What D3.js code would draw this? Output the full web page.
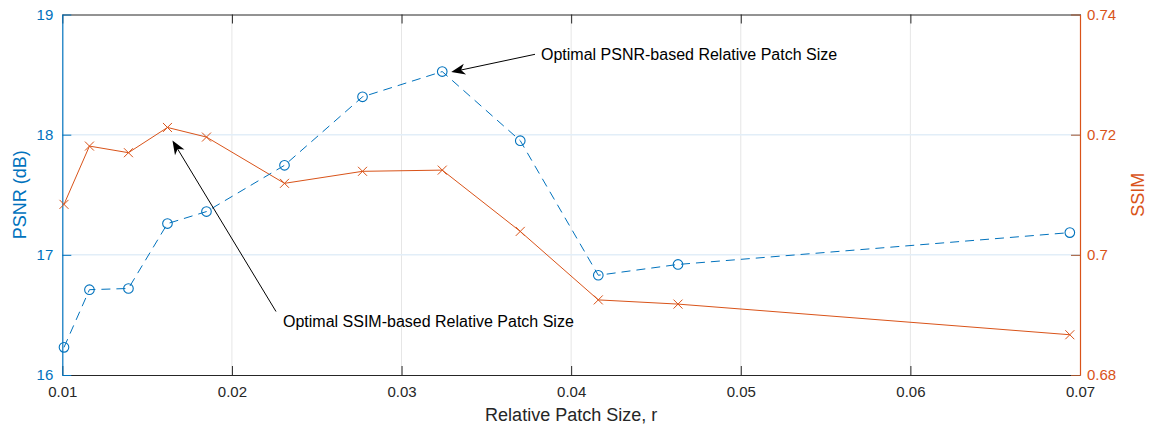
<!DOCTYPE html>
<html>
<head>
<meta charset="utf-8">
<script src="https://cdn.jsdelivr.net/npm/d3@7/dist/d3.min.js"></script>
<style>
  html, body { margin: 0; padding: 0; background: #fff; }
  svg { display: block; font-family: "Liberation Sans", Arial, sans-serif; }
</style>
</head>
<body>
<svg id="chart" width="1152" height="431"></svg>
<script>
// Relative patch sizes and the two quality measures at each size
const patchSize = [0.0101, 0.0116, 0.0139, 0.0162, 0.0185, 0.0231, 0.0277, 0.0324, 0.0370, 0.0416, 0.0463, 0.0694];
const psnr      = [16.23, 16.71, 16.72, 17.26, 17.36, 17.745, 18.315, 18.525, 17.95, 16.83, 16.92, 17.185];
const ssim      = [0.7084, 0.7181, 0.7170, 0.7212, 0.7196, 0.7119, 0.7139, 0.7141, 0.7039, 0.6925, 0.6918, 0.6867];

const xTicks     = [0.01, 0.02, 0.03, 0.04, 0.05, 0.06, 0.07];
const psnrTicks  = [16, 17, 18, 19];
const ssimTicks  = [0.68, 0.7, 0.72, 0.74];
const xTickText    = ["0.01", "0.02", "0.03", "0.04", "0.05", "0.06", "0.07"];
const psnrTickText = ["16", "17", "18", "19"];
const ssimTickText = ["0.68", "0.7", "0.72", "0.74"];

const BLUE = "#0072BD", ORANGE = "#D95319", DARK = "#262626";

const svg = d3.select("#chart");
const L = 62.3, R = 1080, T = 14.5, B = 375;

const x  = d3.scaleLinear().domain([0.01, 0.07]).range([L, R]);
const yL = d3.scaleLinear().domain([16, 19]).range([B, T]);
const yR = d3.scaleLinear().domain([0.68, 0.74]).range([B, T]);

// grid
const grid = svg.append("g");
grid.selectAll(".vg").data(xTicks.slice(1, -1)).join("line")
  .attr("x1", d => x(d)).attr("x2", d => x(d)).attr("y1", T).attr("y2", B)
  .attr("stroke", "#e6e6e6").attr("stroke-width", 1);
grid.selectAll(".hg").data(psnrTicks.slice(1, -1)).join("line")
  .attr("x1", L).attr("x2", R).attr("y1", d => yL(d)).attr("y2", d => yL(d))
  .attr("stroke", "#e2eef8").attr("stroke-width", 1.5);

// axes
const tickLen = 9;
const tickFont = "15px";
const xAxisB = d3.axisBottom(x).tickValues(xTicks).tickFormat((d, i) => xTickText[i]).tickSizeInner(-tickLen).tickSizeOuter(0).tickPadding(11);
const gB = svg.append("g").attr("transform", `translate(0,${B})`).call(xAxisB);
const xAxisT = d3.axisTop(x).tickValues(xTicks).tickFormat("").tickSizeInner(-tickLen).tickSizeOuter(0);
const gT = svg.append("g").attr("transform", `translate(0,${T})`).call(xAxisT);
[gB, gT].forEach(g => {
  g.select(".domain").attr("stroke", DARK).attr("stroke-width", 1);
  g.selectAll(".tick line").attr("stroke", DARK);
  g.selectAll(".tick text").attr("fill", DARK).style("font-size", tickFont);
});

const yAxisL = d3.axisLeft(yL).tickValues(psnrTicks).tickFormat((d, i) => psnrTickText[i]).tickSizeInner(-tickLen).tickSizeOuter(0).tickPadding(9);
const gL = svg.append("g").attr("transform", `translate(${L},0)`).call(yAxisL);
gL.select(".domain").attr("stroke", BLUE).attr("stroke-width", 1.2);
gL.selectAll(".tick line").attr("stroke", BLUE);
gL.selectAll(".tick text").attr("fill", BLUE).style("font-size", tickFont);

const yAxisR = d3.axisRight(yR).tickValues(ssimTicks).tickFormat((d, i) => ssimTickText[i]).tickSizeInner(-tickLen).tickSizeOuter(0).tickPadding(7);
const gR = svg.append("g").attr("transform", `translate(${R},0)`).call(yAxisR);
gR.select(".domain").attr("stroke", ORANGE).attr("stroke-width", 1.2);
gR.selectAll(".tick line").attr("stroke", "#a0522d");
gR.selectAll(".tick text").attr("fill", ORANGE).style("font-size", tickFont);

// axis titles
svg.append("text").attr("x", (L + R) / 2).attr("y", 421).attr("text-anchor", "middle")
  .attr("fill", DARK).style("font-size", "18px").text("Relative Patch Size, r");
svg.append("text").attr("transform", `translate(26,${(T + B) / 2}) rotate(-90)`).attr("text-anchor", "middle")
  .attr("fill", BLUE).style("font-size", "18px").text("PSNR (dB)");
svg.append("text").attr("transform", `translate(1144,${(T + B) / 2}) rotate(-90)`).attr("text-anchor", "middle")
  .attr("fill", ORANGE).style("font-size", "18px").text("SSIM");

// SSIM series: solid line with x markers
const ssimLine = d3.line().x((d, i) => x(patchSize[i])).y(d => yR(d));
svg.append("path").datum(ssim).attr("d", ssimLine)
  .attr("fill", "none").attr("stroke", ORANGE).attr("stroke-width", 1);
const cs = 4.5;
svg.append("g").selectAll("path").data(ssim).join("path")
  .attr("d", (d, i) => {
    const cx = x(patchSize[i]), cy = yR(d);
    return `M${cx - cs},${cy - cs}L${cx + cs},${cy + cs}M${cx - cs},${cy + cs}L${cx + cs},${cy - cs}`;
  })
  .attr("stroke", ORANGE).attr("stroke-width", 1).attr("fill", "none");

// PSNR series: dashed line with circle markers
const psnrLine = d3.line().x((d, i) => x(patchSize[i])).y(d => yL(d));
svg.append("path").datum(psnr).attr("d", psnrLine)
  .attr("fill", "none").attr("stroke", BLUE).attr("stroke-width", 1)
  .attr("stroke-dasharray", "9,6");
svg.append("g").selectAll("circle").data(psnr).join("circle")
  .attr("cx", (d, i) => x(patchSize[i])).attr("cy", d => yL(d)).attr("r", 4.8)
  .attr("fill", "none").attr("stroke", BLUE).attr("stroke-width", 1.1);

// annotation arrows
function arrow(x1, y1, x2, y2) {
  const g = svg.append("g");
  const ang = Math.atan2(y2 - y1, x2 - x1);
  const len = 14, half = 5.5, notch = 10;
  const bx = x2 - len * Math.cos(ang), by = y2 - len * Math.sin(ang);
  const nx = x2 - notch * Math.cos(ang), ny = y2 - notch * Math.sin(ang);
  g.append("line").attr("x1", x1).attr("y1", y1).attr("x2", nx).attr("y2", ny)
    .attr("stroke", "#000").attr("stroke-width", 1);
  const px = -Math.sin(ang), py = Math.cos(ang);
  g.append("path")
    .attr("d", `M${x2},${y2}L${bx + px * half},${by + py * half}L${nx},${ny}L${bx - px * half},${by - py * half}Z`)
    .attr("fill", "#000");
}
const peakP = psnr.indexOf(d3.max(psnr));
const peakS = ssim.indexOf(d3.max(ssim));
arrow(535, 54.3, x(patchSize[peakP]) + 9, yL(psnr[peakP]) + 0.5);
svg.append("text").attr("x", 541).attr("y", 60).attr("fill", "#000")
  .style("font-size", "16px").text("Optimal PSNR-based Relative Patch Size");
arrow(276, 311.5, x(patchSize[peakS]) + 5, yR(ssim[peakS]) + 13);
svg.append("text").attr("x", 283).attr("y", 327).attr("fill", "#000")
  .style("font-size", "16px").text("Optimal SSIM-based Relative Patch Size");
</script>
</body>
</html>
